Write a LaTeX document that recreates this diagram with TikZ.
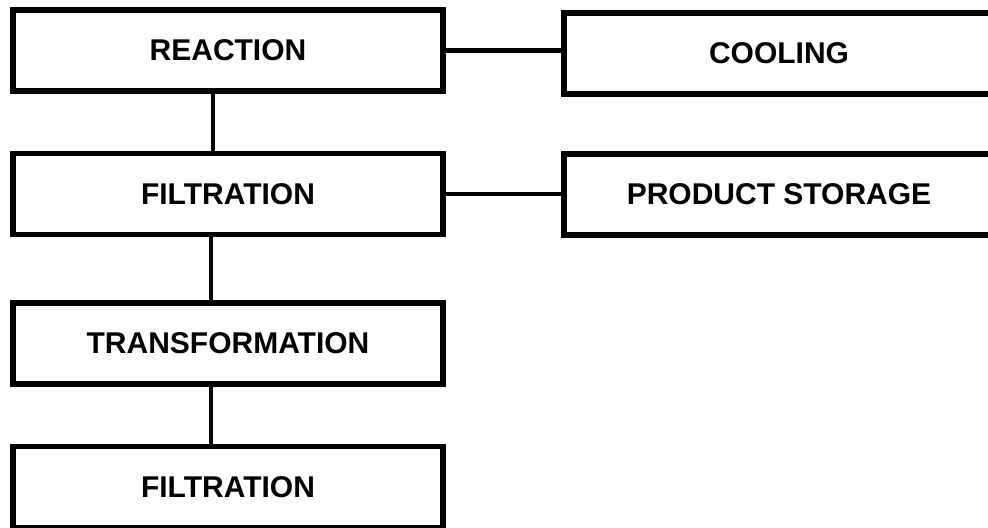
\documentclass[tikz,border=0pt]{standalone}
\usepackage{fontspec}
\setmainfont{Liberation Sans}
\usetikzlibrary{calc}
\begin{document}
\begin{tikzpicture}[x=0.5pt,y=-0.5pt,
	stage/.style={draw, line width=2.6pt, minimum width=215pt, minimum height=40.5pt,
		inner sep=0, font=\fontsize{15}{18}\selectfont\bfseries},
	link/.style={line width=2.2pt}]
	\useasboundingbox (0,0) rectangle (988,528);
	% process chain on the left
	\node[stage] (react) at (228, 50.5) {REACTION};
	\node[stage] (filt) at (228, 194) {FILTRATION};
	\node[stage] (trans) at (228, 343.5) {TRANSFORMATION};
	\node[stage] (filtb) at (228, 487) {FILTRATION};
	% side branches
	\node[stage] (cool) at (779, 53.5) {COOLING};
	\node[stage] (store) at (779, 194.5) {PRODUCT STORAGE};
	\draw[link] (react.east) -- (react.east -| cool.west);
	\draw[link] (filt.east) -- (filt.east -| store.west);
	\draw[link] ([xshift=-7.5pt]react.south) -- ([xshift=-7.5pt]filt.north);
	\draw[link] ([xshift=-8.5pt]filt.south) -- ([xshift=-8.5pt]trans.north);
	\draw[link] ([xshift=-8.5pt]trans.south) -- ([xshift=-8.5pt]filtb.north);
\end{tikzpicture}
\end{document}
